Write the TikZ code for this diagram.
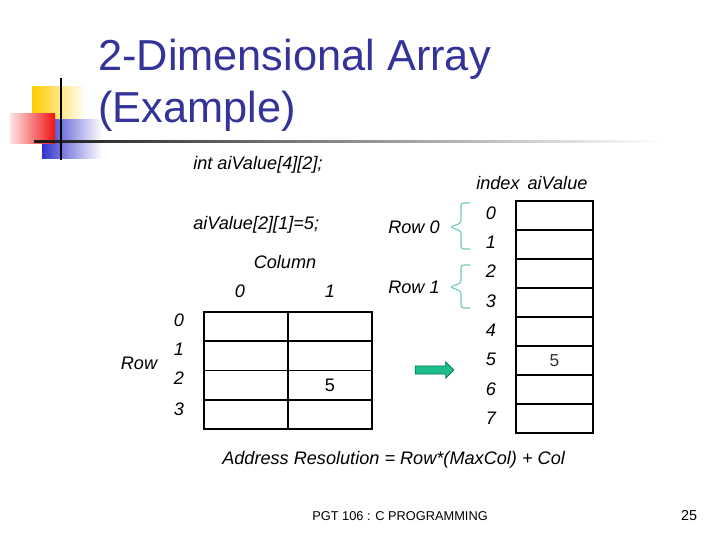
\documentclass[tikz,border=0pt]{standalone}
\usepackage{xcolor}
\usepackage{fontspec}
\setmainfont{Liberation Sans}
\usepackage{tikz}
\usetikzlibrary{arrows.meta,positioning,shapes.arrows}
\definecolor{titleblue}{RGB}{51,51,153}
\definecolor{deckyellow}{RGB}{255,204,0}
\definecolor{deckblue}{RGB}{51,51,204}
\definecolor{deckred}{RGB}{240,20,20}
\definecolor{bracecyan}{RGB}{110,200,190}
\definecolor{arrowgreen}{RGB}{30,190,140}
\definecolor{arrowdark}{RGB}{0,120,90}
\tikzset{
  slidetitle/.style={
    anchor=base west,
    inner sep=0pt,
    text=titleblue,
    font=\fontsize{32.5}{39}\selectfont
  },
  codelabel/.style={
    inner sep=0pt,
    font=\fontsize{13.6}{16}\selectfont\itshape
  },
  valuelabel/.style={
    inner sep=0pt,
    font=\fontsize{13.6}{16}\selectfont
  },
  gridcell/.style={
    rectangle,
    draw=black,
    line width=1.2pt,
    inner sep=0pt,
    outer sep=0pt,
    minimum width=63pt,
    minimum height=21.94pt
  },
  memcell/.style={
    rectangle,
    draw=black,
    line width=1.2pt,
    inner sep=0pt,
    outer sep=0pt,
    minimum width=57.75pt,
    minimum height=21.98pt
  },
  rowbrace/.style={
    draw=bracecyan,
    line width=0.8pt,
    rounded corners=2pt
  },
  footlabel/.style={
    inner sep=0pt,
    font=\fontsize{9.6}{12}\selectfont
  }
}

\begin{document}
\begin{tikzpicture}[x=0.75pt,y=-0.75pt]
\useasboundingbox (0,0) rectangle (720,540);

% corner decoration
\shade[left color=deckyellow, middle color=deckyellow, right color=white] (32,86) rectangle (86,119);
\shade[left color=deckblue, middle color=deckblue, right color=white] (42,119) rectangle (102,158);
\shade[left color=deckred!12, right color=deckred] (10,113) rectangle (55,143);
\shade[left color=black!90, right color=white] (34,140) rectangle (660,142.5);
\draw[line width=1.6pt] (61,78) -- (61,160);

% title
\node[slidetitle] (title) at (98,70) {2-Dimensional Array};
\node[slidetitle] (subtitle) at (98,122) {(Example)};

% declaration
\node[codelabel, anchor=west] (decl) at (193,165) {int aiValue[4][2];};
\node[codelabel, anchor=west] (assign) at (193,225) {aiValue[2][1]=5;};

% two dimensional view
\node[codelabel] (column) at (285,262) {Column};
\node[codelabel] (col0) at (240,291) {0};
\node[codelabel] (col1) at (330,291) {1};
\node[codelabel] (row) at (139,363) {Row};
\node[codelabel] (row0) at (179,320) {0};
\node[codelabel] (row1) at (179,349) {1};
\node[codelabel] (row2) at (179,378) {2};
\node[codelabel] (row3) at (179,409) {3};

\node[gridcell] (g00) at (246,326.6) {};
\node[gridcell] (g01) at (330,326.6) {};
\node[gridcell] (g10) at (246,355.9) {};
\node[gridcell] (g11) at (330,355.9) {};
\node[gridcell] (g20) at (246,385.1) {};
\node[gridcell, font=\fontsize{13.6}{16}\selectfont] (g21) at (330,385.1) {5};
\node[gridcell] (g30) at (246,414.4) {};
\node[gridcell] (g31) at (330,414.4) {};

% memory view
\node[codelabel, anchor=west] (memhead) at (476,183) {index\hspace{6pt}aiValue};

\node[memcell] (m0) at (554.5,215.5) {};
\node[memcell] (m1) at (554.5,244.5) {};
\node[memcell] (m2) at (554.5,273.5) {};
\node[memcell] (m3) at (554.5,302.5) {};
\node[memcell] (m4) at (554.5,331.5) {};
\node[memcell, font=\fontsize{13}{16}\selectfont\color{black!80}] (m5) at (554.5,360.5) {5};
\node[memcell] (m6) at (554.5,389.5) {};
\node[memcell] (m7) at (554.5,418.5) {};

\node[codelabel] (idx0) at (491,213) {0};
\node[codelabel] (idx1) at (491,242.3) {1};
\node[codelabel] (idx2) at (491,271.6) {2};
\node[codelabel] (idx3) at (491,300.9) {3};
\node[codelabel] (idx4) at (491,330.2) {4};
\node[codelabel] (idx5) at (491,359.5) {5};
\node[codelabel] (idx6) at (491,388.8) {6};
\node[codelabel] (idx7) at (491,418.1) {7};

\node[codelabel, anchor=west] (memrow0) at (388,227) {Row 0};
\node[codelabel, anchor=west] (memrow1) at (388,287) {Row 1};

\coordinate (tip0) at (450,227);
\coordinate (tip1) at (450,287);
\draw[rowbrace] (470,203) -- (461,203) -- (461,223) -- (tip0) -- (461,231) -- (461,249) -- (470,249);
\draw[rowbrace] (470,265) -- (461,265) -- (461,283) -- (tip1) -- (461,291) -- (461,308) -- (470,308);

\node[single arrow, fill=arrowgreen, draw=arrowdark, line width=0.5pt,
      inner sep=2.8pt, single arrow head extend=3pt, single arrow head indent=0pt,
      minimum height=29pt] (maparrow) at (432.5,370) {};

% formula and footer
\node[codelabel, anchor=west] (formula) at (222,460) {Address Resolution = Row*(MaxCol) + Col};
\node[footlabel] (course) at (400,516) {PGT 106 : C PROGRAMMING};
\node[footlabel, font=\fontsize{10.8}{13}\selectfont] (page) at (689,516) {25};
\end{tikzpicture}
\end{document}
